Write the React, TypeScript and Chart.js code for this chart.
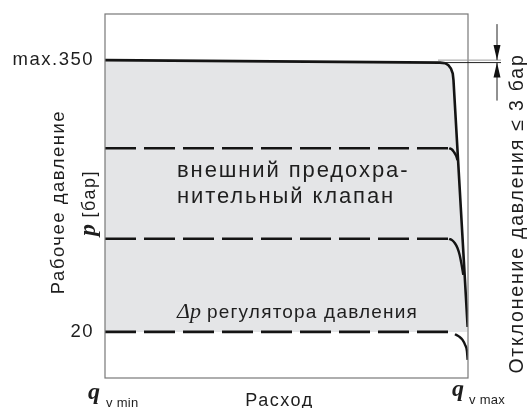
import { useEffect, useRef } from 'react';
import { Chart, registerables } from 'chart.js';

Chart.register(...registerables);

// Axis range (bar) and the labelled ticks
const Y_MIN = -36;
const Y_MAX = 406;
const X_MIN = 0;
const X_MAX = 100;
const Y_TICKS = [20, 350];
const Y_TICK_LABELS = ['20', 'max.350'];

// Maximum pressure and permitted deviation (bar)
const P_MAX = 350;
const P_DEVIATION = 3;

// Characteristic of the pump: pressure vs. flow (flow in % of q_v max)
const MAIN_X = [0, 92.3, 93.7, 94.6, 95.3, 95.8, 96.0, 99.9];
const MAIN_Y = [350, 347, 346.2, 343.9, 339.7, 333.6, 325.7, 26];

// Lower set pressures (dashed) and where their dashed part ends
const LEVELS = [243, 133, 20];
const LEVEL_END_X = 94.5;

// Roll-off of each lower set pressure near q_v max
const CURVE_243_X = [94.8, 95.5, 96.1, 96.7, 97.1];
const CURVE_243_Y = [243, 241.7, 238.6, 234.1, 228.7];
const CURVE_133_X = [94.8, 95.6, 96.4, 97.1, 97.7, 98.2, 98.7];
const CURVE_133_Y = [133, 131.4, 127.6, 121.9, 113.4, 102.5, 89.2];
const CURVE_20_X = [96.4, 97.5, 98.5, 99.2, 99.7, 99.9];
const CURVE_20_Y = [17.2, 14.5, 10.3, 4.2, -3.1, -14];

// Texts
const Y_TITLE = 'Рабочее давление';
const Y_SYMBOL = 'p';
const Y_UNIT = ' [бар]';
const X_TITLE = 'Расход';
const X_SYMBOL = 'q';
const X_MIN_SUB = 'v min';
const X_MAX_SUB = 'v max';
const NOTE_DEVIATION = `Отклонение давления ≤ ${P_DEVIATION} бар`;
const VALVE_LINES = ['внешний предохра-', 'нительный клапан'];
const REG_SYMBOL = 'Δp';
const REG_TEXT = 'регулятора давления';

const SANS = '"Liberation Sans", Arial, sans-serif';
const SERIF = '"Liberation Serif", "Times New Roman", serif';
const INK = '#1e1e1e';
const FILL = '#e4e5e7';

const zip = (xs: number[], ys: number[]) => xs.map((x, i) => ({ x, y: ys[i] }));

const drawText = (
  ctx: CanvasRenderingContext2D,
  s: string,
  x: number,
  y: number,
  font: string,
  align: CanvasTextAlign = 'left',
  spacing = '1.5px'
) => {
  ctx.font = font;
  (ctx as any).letterSpacing = spacing;
  ctx.textAlign = align;
  ctx.textBaseline = 'alphabetic';
  ctx.fillStyle = INK;
  ctx.fillText(s, x, y);
  return ctx.measureText(s).width;
};

const decorations = {
  id: 'decorations',
  beforeDraw(chart: any) {
    chart.ctx.letterSpacing = '1.5px';
  },
  afterDatasetsDraw(chart: any) {
    const { ctx, chartArea: a, scales } = chart;
    const xs = scales.x;
    const ys = scales.y;
    ctx.save();
    (ctx as any).letterSpacing = '0px';

    // frame
    ctx.strokeStyle = '#787878';
    ctx.lineWidth = 1.2;
    ctx.strokeRect(a.left, a.top, a.right - a.left, a.bottom - a.top);

    // deviation band at the maximum pressure
    const yTop = ys.getPixelForValue(P_MAX);
    const yLow = ys.getPixelForValue(P_MAX - P_DEVIATION);
    const xEnd = a.right + 33;
    ctx.lineWidth = 1;
    ctx.strokeStyle = '#9a9a9a';
    ctx.beginPath();
    ctx.moveTo(a.right - 30, yTop);
    ctx.lineTo(xEnd, yTop);
    ctx.stroke();
    ctx.strokeStyle = '#222';
    ctx.beginPath();
    ctx.moveTo(xs.getPixelForValue(MAIN_X[1]), yLow);
    ctx.lineTo(xEnd, yLow);
    ctx.stroke();

    // arrows pointing at the band
    const ax = a.right + 29;
    ctx.beginPath();
    ctx.moveTo(ax, yTop - 36);
    ctx.lineTo(ax, yTop);
    ctx.moveTo(ax, yLow);
    ctx.lineTo(ax, yLow + 38);
    ctx.stroke();
    ctx.fillStyle = '#111';
    ctx.beginPath();
    ctx.moveTo(ax, yTop);
    ctx.lineTo(ax - 3.5, yTop - 15);
    ctx.lineTo(ax + 3.5, yTop - 15);
    ctx.closePath();
    ctx.fill();
    ctx.beginPath();
    ctx.moveTo(ax, yLow);
    ctx.lineTo(ax - 3.5, yLow + 15);
    ctx.lineTo(ax + 3.5, yLow + 15);
    ctx.closePath();
    ctx.fill();
    ctx.restore();
  },
  afterDraw(chart: any) {
    const { ctx, chartArea: a } = chart;
    const sans = `18px ${SANS}`;
    const serif = `italic bold 24px ${SERIF}`;
    ctx.save();

    // y-axis title, rotated
    ctx.save();
    ctx.translate(63.5, 202);
    ctx.rotate(-Math.PI / 2);
    drawText(ctx, Y_TITLE, 0, 0, `18.5px ${SANS}`, 'center');
    ctx.restore();

    ctx.save();
    ctx.translate(94.5, 203);
    ctx.rotate(-Math.PI / 2);
    ctx.font = serif;
    (ctx as any).letterSpacing = '0px';
    const wp = ctx.measureText(Y_SYMBOL).width;
    ctx.font = sans;
    (ctx as any).letterSpacing = '1.5px';
    const wu = ctx.measureText(Y_UNIT).width;
    const start = -(wp + wu) / 2;
    drawText(ctx, Y_SYMBOL, start, 0, serif, 'left', '0px');
    drawText(ctx, Y_UNIT, start + wp, 0, sans, 'left');
    ctx.restore();

    // deviation note, rotated on the right
    ctx.save();
    ctx.translate(a.right + 55, 213.5);
    ctx.rotate(-Math.PI / 2);
    drawText(ctx, NOTE_DEVIATION, 0, 0, `19.5px ${SANS}`, 'center', '1.8px');
    ctx.restore();

    // labels inside the diagram
    const valve = `22px ${SANS}`;
    drawText(ctx, VALVE_LINES[0], a.left + 72, 177, valve, 'left', '1.9px');
    drawText(ctx, VALVE_LINES[1], a.left + 72, 203, valve, 'left', '1.9px');
    const wr = drawText(ctx, REG_SYMBOL, a.left + 72, 318, `italic 22px ${SERIF}`, 'left', '0px');
    drawText(ctx, REG_TEXT, a.left + 72 + wr + 6, 318, `19px ${SANS}`, 'left', '1.2px');

    // x-axis labels
    drawText(ctx, X_SYMBOL, a.left - 17, 399, serif, 'left', '0px');
    drawText(ctx, X_MIN_SUB, a.left + 1, 407, `13px ${SANS}`, 'left', '0.3px');
    drawText(ctx, X_TITLE, (a.left + a.right) / 2 - 7, 406, sans, 'center');
    drawText(ctx, X_SYMBOL, a.right - 16, 396, serif, 'left', '0px');
    drawText(ctx, X_MAX_SUB, a.right + 1, 404, `13px ${SANS}`, 'left', '0.3px');

    ctx.restore();
  },
};

export default function App() {
  const ref = useRef<HTMLCanvasElement>(null);

  useEffect(() => {
    if (!ref.current) return;
    const line = (data: { x: number; y: number }[], extra: any = {}) => ({
      data,
      borderColor: '#141414',
      borderWidth: 2.6,
      pointRadius: 0,
      fill: false,
      tension: 0,
      ...extra,
    });

    const datasets: any[] = [
      line(zip(MAIN_X, MAIN_Y), {
        fill: { value: 20 },
        backgroundColor: FILL,
        order: 0,
      }),
      ...LEVELS.map((lv) =>
        line(
          [
            { x: X_MIN, y: lv },
            { x: LEVEL_END_X, y: lv },
          ],
          { borderDash: [31, 8], order: 2 }
        )
      ),
      line(zip(CURVE_243_X, CURVE_243_Y), { cubicInterpolationMode: 'monotone', borderWidth: 2.4, order: 1 }),
      line(zip(CURVE_133_X, CURVE_133_Y), { cubicInterpolationMode: 'monotone', borderWidth: 2.4, order: 1 }),
      line(zip(CURVE_20_X, CURVE_20_Y), { cubicInterpolationMode: 'monotone', borderWidth: 2.4, order: 1 }),
    ];

    const chart = new Chart(ref.current, {
      type: 'line',
      data: { datasets },
      options: {
        animation: false,
        responsive: false,
        devicePixelRatio: 1,
        layout: { padding: { top: 14, right: 63, bottom: 30, left: 0 } },
        plugins: {
          legend: { display: false },
          tooltip: { enabled: false },
          filler: { drawTime: 'beforeDatasetsDraw' },
        } as any,
        scales: {
          x: { type: 'linear', min: X_MIN, max: X_MAX, display: false },
          y: {
            type: 'linear',
            min: Y_MIN,
            max: Y_MAX,
            afterFit: (s: any) => {
              s.width = 105;
              s.paddingTop = 0;
              s.paddingBottom = 0;
            },
            afterBuildTicks: (s: any) => {
              s.ticks = Y_TICKS.map((value) => ({ value }));
            },
            grid: { display: false, drawTicks: false },
            border: { display: false },
            ticks: {
              padding: 11,
              color: INK,
              font: { family: SANS, size: 18.5 },
              callback: (v: any) => {
                const i = Y_TICKS.indexOf(Number(v));
                return i >= 0 ? Y_TICK_LABELS[i] : '';
              },
            },
          },
        },
      },
      plugins: [decorations],
    });
    return () => chart.destroy();
  }, []);

  return (
    <canvas
      ref={ref}
      width={531}
      height={408}
      style={{ position: 'absolute', left: 0, top: 0, display: 'block' }}
    />
  );
}
